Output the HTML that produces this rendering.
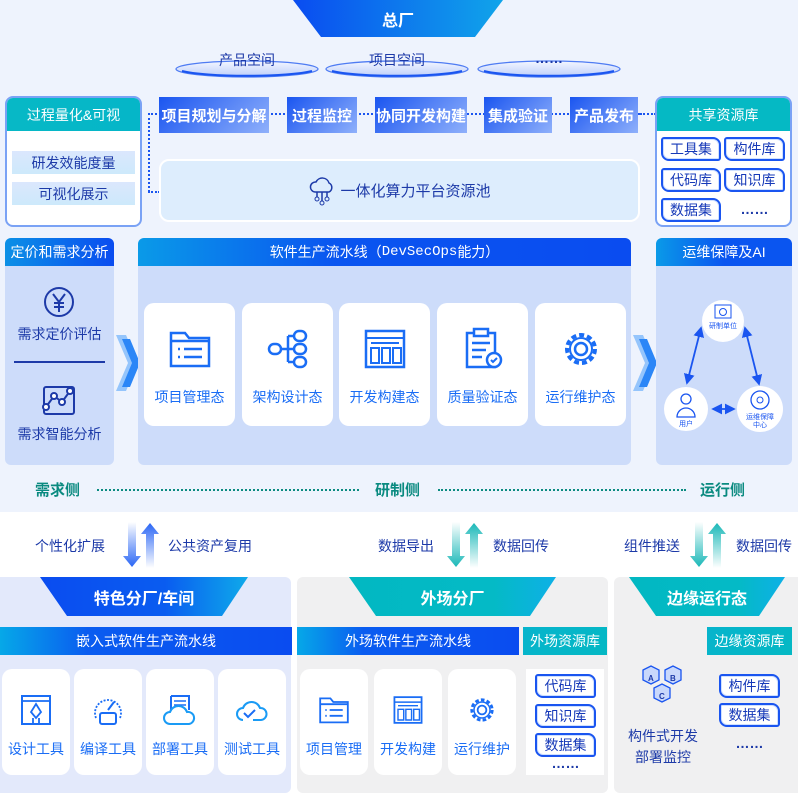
<!DOCTYPE html>
<html><head><meta charset="utf-8"><style>
*{margin:0;padding:0;box-sizing:border-box}
body{width:798px;height:795px;position:relative;overflow:hidden;background:#fff;font-family:"Liberation Sans","Noto Sans CJK SC",sans-serif}
.a{position:absolute}
.c{display:flex;align-items:center;justify-content:center;text-align:center}
.lbl{color:#fff;font-weight:bold;font-size:15px;background:linear-gradient(135deg,#1a55f0,#8fb0fb)}
.tag{position:absolute;border:2px solid #1a55f0;border-radius:3px 8px 3px 8px;background:#fff;color:#1639b8;font-size:14px;display:flex;align-items:center;justify-content:center;box-shadow:inset 0 0 0 1px #cfe0ff}
.card{position:absolute;background:#fff;border-radius:10px;color:#1a6df5;font-size:14px;text-align:center}
.card svg{display:block;margin:0 auto}
.dots{border-top:2px dotted #1a55f0}
.tdots{border-top:2px dotted #0a8a80}
.side{color:#0a8a80;font-weight:bold;font-size:15px}
.blk{color:#1d3aa8;font-size:14px}
</style></head><body>
<div class="a" style="left:0;top:0;width:798px;height:512px;background:#eef3fd"></div>
<svg class="a" style="left:290px;top:0" width="216" height="38"><defs><linearGradient id="g1" x1="0" x2="1"><stop offset="0" stop-color="#0a4cf0"/><stop offset="1" stop-color="#10a4ea"/></linearGradient></defs><polygon points="3,0 213,0 185,37 31,37" fill="url(#g1)"/></svg>
<div class="a c" style="left:290px;top:0;width:216px;height:37px;color:#fff;font-weight:bold;font-size:16px">总厂</div>
<svg class="a" style="left:170px;top:55px" width="460" height="30"><defs><linearGradient id="ge" x1="0" y1="0" x2="0" y2="1"><stop offset="0" stop-color="#f4f7ff"/><stop offset="1" stop-color="#bccdfa"/></linearGradient></defs>
<g fill="url(#ge)" stroke="#4f7cf3" stroke-width="1.3"><ellipse cx="77" cy="14" rx="71" ry="8"/><ellipse cx="227" cy="14" rx="71" ry="8"/><ellipse cx="379" cy="14" rx="71" ry="8"/></g>
<g fill="none" stroke="#1a55f0" stroke-width="2"><path d="M12 16a71 8 0 0 0 130 0"/><path d="M162 16a71 8 0 0 0 130 0"/><path d="M314 16a71 8 0 0 0 130 0"/></g></svg>
<div class="a c blk" style="left:176px;top:50px;width:142px;height:20px">产品空间</div>
<div class="a c blk" style="left:326px;top:50px;width:142px;height:20px">项目空间</div>
<div class="a c blk" style="left:478px;top:48px;width:142px;height:20px;font-weight:bold">……</div>
<div class="a" style="left:5px;top:96px;width:137px;height:131px;background:#fff;border:2px solid #7aa2f5;border-radius:8px;overflow:hidden">
<div class="c" style="height:33px;background:linear-gradient(90deg,#07b8c6,#05b6c8);color:#fff;font-size:14px">过程量化&amp;可视</div></div>
<div class="a c blk" style="left:12px;top:151px;width:123px;height:23px;background:linear-gradient(#dbe7fd,#cde9fb)">研发效能度量</div>
<div class="a c blk" style="left:12px;top:182px;width:123px;height:23px;background:linear-gradient(#dbe7fd,#cde9fb)">可视化展示</div>
<div class="a dots" style="left:148px;top:113px;width:492px"></div>
<div class="a" style="left:148px;top:113px;height:79px;border-left:2px dotted #1a55f0"></div>
<div class="a dots" style="left:148px;top:191px;width:12px"></div>
<div class="a c lbl" style="left:159px;top:97px;width:110px;height:36px">项目规划与分解</div>
<div class="a c lbl" style="left:287px;top:97px;width:70px;height:36px">过程监控</div>
<div class="a c lbl" style="left:375px;top:97px;width:92px;height:36px">协同开发构建</div>
<div class="a c lbl" style="left:484px;top:97px;width:68px;height:36px">集成验证</div>
<div class="a c lbl" style="left:570px;top:97px;width:68px;height:36px">产品发布</div>
<div class="a dots" style="left:640px;top:113px;width:16px"></div>
<div class="a c" style="left:159px;top:159px;width:481px;height:63px;background:#ddedfd;border:2px solid #fff;border-radius:10px;color:#1d3aa8;font-size:15px">
<svg width="28" height="30" viewBox="0 0 28 30" style="margin-right:4px"><path d="M7 16a5 5 0 0 1 1-10 7 7 0 0 1 13 1 5 5 0 0 1 0 9z" fill="none" stroke="#1d3aa8" stroke-width="1.5"/><path d="M9 16v5M14 16v9M19 16v5" stroke="#1d3aa8" stroke-width="1.5"/><circle cx="9" cy="23" r="2" fill="none" stroke="#1d3aa8"/><circle cx="14" cy="27" r="2" fill="none" stroke="#1d3aa8"/><circle cx="19" cy="23" r="2" fill="none" stroke="#1d3aa8"/></svg>一体化算力平台资源池</div>
<div class="a" style="left:655px;top:96px;width:137px;height:131px;background:#fff;border:2px solid #7aa2f5;border-radius:8px;overflow:hidden">
<div class="c" style="height:33px;background:#05b9c4;color:#fff;font-size:14px">共享资源库</div></div>
<div class="tag" style="left:661px;top:137px;width:60px;height:24px">工具集</div>
<div class="tag" style="left:724px;top:137px;width:61px;height:24px">构件库</div>
<div class="tag" style="left:661px;top:168px;width:60px;height:24px">代码库</div>
<div class="tag" style="left:724px;top:168px;width:61px;height:24px">知识库</div>
<div class="tag" style="left:661px;top:198px;width:60px;height:24px">数据集</div>
<div class="a c blk" style="left:724px;top:199px;width:61px;height:20px;font-weight:bold">……</div>
<div class="a" style="left:5px;top:238px;width:109px;height:227px;background:#cddcfa;border-radius:6px;overflow:hidden">
<div class="c" style="height:28px;background:linear-gradient(90deg,#0b90e6,#0a4cf0);color:#fff;font-size:14px">定价和需求分析</div></div>
<svg class="a" style="left:43px;top:286px" width="32" height="32"><circle cx="16" cy="16" r="14" fill="none" stroke="#1d3aa8" stroke-width="2"/><path d="M10 8l6 8 6-8M16 16v10M11 17h10M11 21h10" fill="none" stroke="#1d3aa8" stroke-width="2"/></svg>
<div class="a c blk" style="left:5px;top:324px;width:109px;height:20px;font-size:14px">需求定价评估</div>
<div class="a" style="left:14px;top:361px;width:91px;height:2px;background:#1d3aa8"></div>
<svg class="a" style="left:41px;top:385px" width="36" height="32"><rect x="3" y="2" width="30" height="27" rx="2" fill="none" stroke="#1d3aa8" stroke-width="2"/><polyline points="5,22 13,11 21,17 29,6" fill="none" stroke="#1d3aa8" stroke-width="2"/><circle cx="5" cy="22" r="3" fill="#fff" stroke="#1d3aa8" stroke-width="2"/><circle cx="13" cy="11" r="3" fill="#fff" stroke="#1d3aa8" stroke-width="2"/><circle cx="21" cy="17" r="3" fill="#fff" stroke="#1d3aa8" stroke-width="2"/><circle cx="29" cy="6" r="3" fill="#fff" stroke="#1d3aa8" stroke-width="2"/></svg>
<div class="a c blk" style="left:5px;top:424px;width:109px;height:20px;font-size:14px">需求智能分析</div>
<svg class="a" style="left:116px;top:335px" width="24" height="56"><polygon points="0,0 10,0 22,28 10,56 0,56 12,28" fill="#5aa6fb" opacity=".6"/><polygon points="6,4 14,4 24,28 14,52 6,52 16,28" fill="#2b86f7"/></svg>
<svg class="a" style="left:633px;top:335px" width="24" height="56"><polygon points="0,0 10,0 22,28 10,56 0,56 12,28" fill="#5aa6fb" opacity=".6"/><polygon points="6,4 14,4 24,28 14,52 6,52 16,28" fill="#2b86f7"/></svg>
<div class="a" style="left:138px;top:238px;width:493px;height:227px;background:#cddcfa;border-radius:6px;overflow:hidden">
<div class="c" style="height:28px;background:linear-gradient(90deg,#0a9ae8,#0a55f0 40%,#0a4cf0);color:#fff;font-size:14px">软件生产流水线（<span style="font-family:'Liberation Mono',monospace">DevSecOps</span>能力）</div></div>
<div class="card" style="left:144px;top:303px;width:91px;height:123px"><svg width="44" height="40" style="margin-top:26px" viewBox="0 0 44 40"><path d="M3 4h14l4 5h20v28H3z" fill="none" stroke="#1a6df5" stroke-width="2.5"/><path d="M3 12h38M10 20h2M16 20h18M10 28h2M16 28h18" stroke="#1a6df5" stroke-width="2.5"/></svg><div style="margin-top:18px">项目管理态</div></div>
<div class="card" style="left:242px;top:303px;width:91px;height:123px"><svg width="44" height="42" style="margin-top:25px" viewBox="0 0 44 42"><rect x="3" y="16" width="12" height="10" rx="5" fill="none" stroke="#1a6df5" stroke-width="2.5"/><rect x="28" y="3" width="12" height="10" rx="5" fill="none" stroke="#1a6df5" stroke-width="2.5"/><rect x="28" y="16" width="12" height="10" rx="5" fill="none" stroke="#1a6df5" stroke-width="2.5"/><rect x="28" y="29" width="12" height="10" rx="5" fill="none" stroke="#1a6df5" stroke-width="2.5"/><path d="M15 21h13M22 8v26M22 8h6M22 34h6" fill="none" stroke="#1a6df5" stroke-width="2.5"/></svg><div style="margin-top:17px">架构设计态</div></div>
<div class="card" style="left:339px;top:303px;width:91px;height:123px"><svg width="44" height="42" style="margin-top:25px" viewBox="0 0 44 42"><rect x="3" y="3" width="38" height="36" fill="none" stroke="#1a6df5" stroke-width="2.5"/><path d="M3 10h38M8 15h28M8 20h8v15H8zM19 20h8v15h-8zM30 20h8v15h-8z" fill="none" stroke="#1a6df5" stroke-width="2"/></svg><div style="margin-top:17px">开发构建态</div></div>
<div class="card" style="left:437px;top:303px;width:91px;height:123px"><svg width="44" height="44" style="margin-top:24px" viewBox="0 0 44 44"><path d="M6 6h28v34H6z" fill="none" stroke="#1a6df5" stroke-width="2.5"/><rect x="13" y="2" width="14" height="7" fill="#fff" stroke="#1a6df5" stroke-width="2.5"/><path d="M11 16h18M11 23h14M11 30h10" stroke="#1a6df5" stroke-width="2.5"/><circle cx="33" cy="33" r="7" fill="#fff" stroke="#1a6df5" stroke-width="2.5"/><path d="M30 33l2 2 4-4" fill="none" stroke="#1a6df5" stroke-width="2"/></svg><div style="margin-top:16px">质量验证态</div></div>
<div class="card" style="left:535px;top:303px;width:91px;height:123px"><svg width="44" height="44" style="margin-top:24px" viewBox="0 0 44 44"><circle cx="22" cy="22" r="14" fill="none" stroke="#1a6df5" stroke-width="4" stroke-dasharray="5 3"/><circle cx="22" cy="22" r="11" fill="none" stroke="#1a6df5" stroke-width="2"/><circle cx="22" cy="22" r="6" fill="none" stroke="#1a6df5" stroke-width="2.5"/></svg><div style="margin-top:16px">运行维护态</div></div>
<div class="a" style="left:656px;top:238px;width:136px;height:227px;background:#cddcfa;border-radius:6px;overflow:hidden">
<div class="c" style="height:28px;background:linear-gradient(90deg,#0a9ae8,#0a55f0 50%);color:#fff;font-size:14px">运维保障及AI</div></div>
<svg class="a" style="left:656px;top:266px" width="136" height="199">
<defs><marker id="ar" markerWidth="6" markerHeight="6" refX="5" refY="3" orient="auto-start-reverse"><path d="M0,0L6,3L0,6z" fill="#1a55f0"/></marker></defs>
<line x1="45" y1="62" x2="31" y2="117" stroke="#1a55f0" stroke-width="1.8" marker-start="url(#ar)" marker-end="url(#ar)"/>
<line x1="89" y1="62" x2="103" y2="118" stroke="#1a55f0" stroke-width="1.8" marker-start="url(#ar)" marker-end="url(#ar)"/>
<line x1="57" y1="143" x2="78" y2="143" stroke="#1a55f0" stroke-width="1.8" marker-start="url(#ar)" marker-end="url(#ar)"/>
<circle cx="67" cy="55" r="21" fill="#fff"/><circle cx="30" cy="143" r="22" fill="#fff"/><circle cx="104" cy="143" r="23" fill="#fff"/>
<rect x="59" y="39" width="16" height="13" fill="none" stroke="#1a55f0"/><circle cx="67" cy="46" r="3.5" fill="none" stroke="#1a55f0"/>
<text x="67" y="62" font-size="7" fill="#1a55f0" text-anchor="middle" font-family="Noto Sans CJK SC">研制单位</text>
<circle cx="30" cy="133" r="5" fill="none" stroke="#1a55f0" stroke-width="1.3"/><path d="M21 151a9 9 0 0 1 18 0z" fill="none" stroke="#1a55f0" stroke-width="1.3"/>
<text x="30" y="160" font-size="7" fill="#1a55f0" text-anchor="middle" font-family="Noto Sans CJK SC">用户</text>
<circle cx="104" cy="134" r="9" fill="none" stroke="#1a55f0" stroke-width="1.3"/><circle cx="104" cy="134" r="3" fill="none" stroke="#1a55f0"/>
<text x="104" y="153" font-size="7" fill="#1a55f0" text-anchor="middle" font-family="Noto Sans CJK SC">运维保障</text><text x="104" y="161" font-size="7" fill="#1a55f0" text-anchor="middle" font-family="Noto Sans CJK SC">中心</text>
</svg>
<div class="a side" style="left:35px;top:479px">需求侧</div>
<div class="a tdots" style="left:97px;top:489px;width:262px"></div>
<div class="a side" style="left:375px;top:479px">研制侧</div>
<div class="a tdots" style="left:438px;top:489px;width:248px"></div>
<div class="a side" style="left:700px;top:479px">运行侧</div>
<div class="a blk" style="left:35px;top:536px">个性化扩展</div>
<div class="a blk" style="left:168px;top:536px">公共资产复用</div>
<div class="a blk" style="left:378px;top:536px">数据导出</div>
<div class="a blk" style="left:493px;top:536px">数据回传</div>
<div class="a blk" style="left:624px;top:536px">组件推送</div>
<div class="a blk" style="left:736px;top:536px">数据回传</div>
<svg class="a" style="left:122px;top:522px" width="40" height="46"><defs><linearGradient id="bd" x1="0" y1="0" x2="0" y2="1"><stop offset="0" stop-color="#fff"/><stop offset="1" stop-color="#2a66f5"/></linearGradient><linearGradient id="bu" x1="0" y1="1" x2="0" y2="0"><stop offset="0" stop-color="#fff"/><stop offset="1" stop-color="#2a66f5"/></linearGradient></defs><polygon points="6,0 14,0 14,34 19,34 10,45 1,34 6,34" fill="url(#bd)"/><polygon points="24,46 32,46 32,12 37,12 28,1 19,12 24,12" fill="url(#bu)"/></svg>
<svg class="a" style="left:446px;top:522px" width="40" height="46"><defs><linearGradient id="td" x1="0" y1="0" x2="0" y2="1"><stop offset="0" stop-color="#fff"/><stop offset="1" stop-color="#1ab8b8"/></linearGradient><linearGradient id="tu" x1="0" y1="1" x2="0" y2="0"><stop offset="0" stop-color="#fff"/><stop offset="1" stop-color="#1ab8b8"/></linearGradient></defs><polygon points="6,0 14,0 14,34 19,34 10,45 1,34 6,34" fill="url(#td)"/><polygon points="24,46 32,46 32,12 37,12 28,1 19,12 24,12" fill="url(#tu)"/></svg>
<svg class="a" style="left:689px;top:522px" width="40" height="46"><polygon points="6,0 14,0 14,34 19,34 10,45 1,34 6,34" fill="url(#td)"/><polygon points="24,46 32,46 32,12 37,12 28,1 19,12 24,12" fill="url(#tu)"/></svg>
<div class="a" style="left:0;top:577px;width:291px;height:216px;background:#e3e9fb;border-radius:0 6px 6px 0"></div>
<div class="a" style="left:297px;top:577px;width:311px;height:216px;background:#f0f0f1;border-radius:6px"></div>
<div class="a" style="left:614px;top:577px;width:184px;height:216px;background:#f0f0f1;border-radius:6px 0 0 6px"></div>
<svg class="a" style="left:0;top:577px" width="798" height="40"><defs><linearGradient id="bb" x1="0" x2="1"><stop offset="0" stop-color="#0a4cf0"/><stop offset=".6" stop-color="#0a5cf0"/><stop offset="1" stop-color="#0eaaea"/></linearGradient><linearGradient id="tb" x1="0" x2="1"><stop offset="0" stop-color="#02b8c2"/><stop offset=".7" stop-color="#04bac6"/><stop offset="1" stop-color="#0eb0e6"/></linearGradient></defs>
<polygon points="40,0 248,0 222,39 67,39" fill="url(#bb)"/><polygon points="349,0 556,0 530,39 376,39" fill="url(#tb)"/><polygon points="629,0 785,0 759,39 656,39" fill="url(#tb)"/></svg>
<div class="a c" style="left:40px;top:577px;width:208px;height:39px;color:#fff;font-weight:bold;font-size:16px">特色分厂/车间</div>
<div class="a c" style="left:349px;top:577px;width:207px;height:39px;color:#fff;font-weight:bold;font-size:16px">外场分厂</div>
<div class="a c" style="left:629px;top:577px;width:156px;height:39px;color:#fff;font-weight:bold;font-size:16px">边缘运行态</div>
<div class="a c" style="left:0;top:627px;width:292px;height:28px;background:linear-gradient(90deg,#06a8e8,#0a5cf0 30%,#0a4cf0);color:#fff;font-size:14px">嵌入式软件生产流水线</div>
<div class="a c" style="left:297px;top:627px;width:222px;height:28px;background:linear-gradient(90deg,#06a8e8,#0a5cf0 30%,#0a4cf0);color:#fff;font-size:14px">外场软件生产流水线</div>
<div class="a c" style="left:523px;top:627px;width:84px;height:28px;background:linear-gradient(135deg,#06b4cc,#05b8c4);color:#fff;font-size:14px">外场资源库</div>
<div class="a c" style="left:707px;top:627px;width:85px;height:28px;background:linear-gradient(135deg,#06b4cc,#05b8c4);color:#fff;font-size:14px">边缘资源库</div>
<div class="card" style="left:2px;top:669px;width:68px;height:106px"><svg width="32" height="32" style="margin-top:25px" viewBox="0 0 32 32"><rect x="2" y="2" width="28" height="28" fill="none" stroke="#1a6df5" stroke-width="2"/><path d="M2 7h28M16 10l-5 8 5 6 5-6zM13 24v6M19 24v6" fill="none" stroke="#1a6df5" stroke-width="1.8"/></svg><div style="margin-top:13px">设计工具</div></div>
<div class="card" style="left:74px;top:669px;width:68px;height:106px"><svg width="34" height="32" style="margin-top:25px" viewBox="0 0 34 32"><path d="M5 24a13 13 0 1 1 24 0" fill="none" stroke="#1a6df5" stroke-width="1.8" stroke-dasharray="2 1.5"/><path d="M17 16l6-8" stroke="#1a6df5" stroke-width="2"/><rect x="9" y="19" width="16" height="11" rx="2" fill="#fff" stroke="#1a6df5" stroke-width="2"/></svg><div style="margin-top:13px">编译工具</div></div>
<div class="card" style="left:146px;top:669px;width:68px;height:106px"><svg width="34" height="32" style="margin-top:25px" viewBox="0 0 34 32"><path d="M8 2h18v14M8 2v14" fill="none" stroke="#1a6df5" stroke-width="2"/><path d="M11 7h12M11 11h12" stroke="#1a6df5" stroke-width="1.5"/><path d="M7 30a6 6 0 0 1 0-12 9 9 0 0 1 17 0 6 6 0 0 1 2 12z" fill="#fff" stroke="#1a9bf5" stroke-width="2"/></svg><div style="margin-top:13px">部署工具</div></div>
<div class="card" style="left:218px;top:669px;width:68px;height:106px"><svg width="34" height="32" style="margin-top:25px" viewBox="0 0 34 32"><path d="M8 26a6 6 0 0 1 0-12 9 9 0 0 1 17 0 6 6 0 0 1 1 12H18" fill="none" stroke="#1a9bf5" stroke-width="2"/><path d="M9 19l4 4 7-7" fill="none" stroke="#1a6df5" stroke-width="2"/></svg><div style="margin-top:13px">测试工具</div></div>
<div class="card" style="left:300px;top:669px;width:68px;height:106px"><svg width="32" height="30" style="margin-top:26px" viewBox="0 0 44 40"><path d="M3 4h14l4 5h20v28H3z" fill="none" stroke="#1a6df5" stroke-width="2.5"/><path d="M3 12h38M10 20h2M16 20h18M10 28h2M16 28h18" stroke="#1a6df5" stroke-width="2.5"/></svg><div style="margin-top:14px">项目管理</div></div>
<div class="card" style="left:374px;top:669px;width:68px;height:106px"><svg width="32" height="30" style="margin-top:26px" viewBox="0 0 44 42"><rect x="3" y="3" width="38" height="36" fill="none" stroke="#1a6df5" stroke-width="2.5"/><path d="M3 10h38M8 15h28M8 20h8v15H8zM19 20h8v15h-8zM30 20h8v15h-8z" fill="none" stroke="#1a6df5" stroke-width="2"/></svg><div style="margin-top:14px">开发构建</div></div>
<div class="card" style="left:448px;top:669px;width:68px;height:106px"><svg width="32" height="32" style="margin-top:25px" viewBox="0 0 44 44"><circle cx="22" cy="22" r="14" fill="none" stroke="#1a6df5" stroke-width="4" stroke-dasharray="5 3"/><circle cx="22" cy="22" r="11" fill="none" stroke="#1a6df5" stroke-width="2"/><circle cx="22" cy="22" r="6" fill="none" stroke="#1a6df5" stroke-width="2.5"/></svg><div style="margin-top:13px">运行维护</div></div>
<div class="a" style="left:526px;top:669px;width:78px;height:106px;background:#fff"></div>
<div class="tag" style="left:535px;top:674px;width:61px;height:24px">代码库</div>
<div class="tag" style="left:535px;top:704px;width:61px;height:24px">知识库</div>
<div class="tag" style="left:535px;top:733px;width:61px;height:24px">数据集</div>
<div class="a c blk" style="left:535px;top:755px;width:61px;height:16px;font-weight:bold">……</div>
<svg class="a" style="left:641px;top:664px" width="44" height="46" viewBox="0 0 44 46"><g stroke="#1a55f0" stroke-width="1.3" fill="#c9d8fb"><path d="M2 6l8-4 8 4v10l-8 4-8-4z"/><path d="M24 6l8-4 8 4v10l-8 4-8-4z"/><path d="M13 24l8-4 8 4v10l-8 4-8-4z"/></g><text x="7" y="17" font-size="8" fill="#1d3aa8" font-weight="bold">A</text><text x="29" y="17" font-size="8" fill="#1d3aa8" font-weight="bold">B</text><text x="18" y="35" font-size="8" fill="#1d3aa8" font-weight="bold">C</text></svg>
<div class="a blk" style="left:620px;top:726px;width:86px;text-align:center;line-height:21px">构件式开发<br>部署监控</div>
<div class="tag" style="left:719px;top:674px;width:61px;height:24px">构件库</div>
<div class="tag" style="left:719px;top:703px;width:61px;height:24px">数据集</div>
<div class="a c blk" style="left:719px;top:735px;width:61px;height:16px;font-weight:bold">……</div>
</body></html>
